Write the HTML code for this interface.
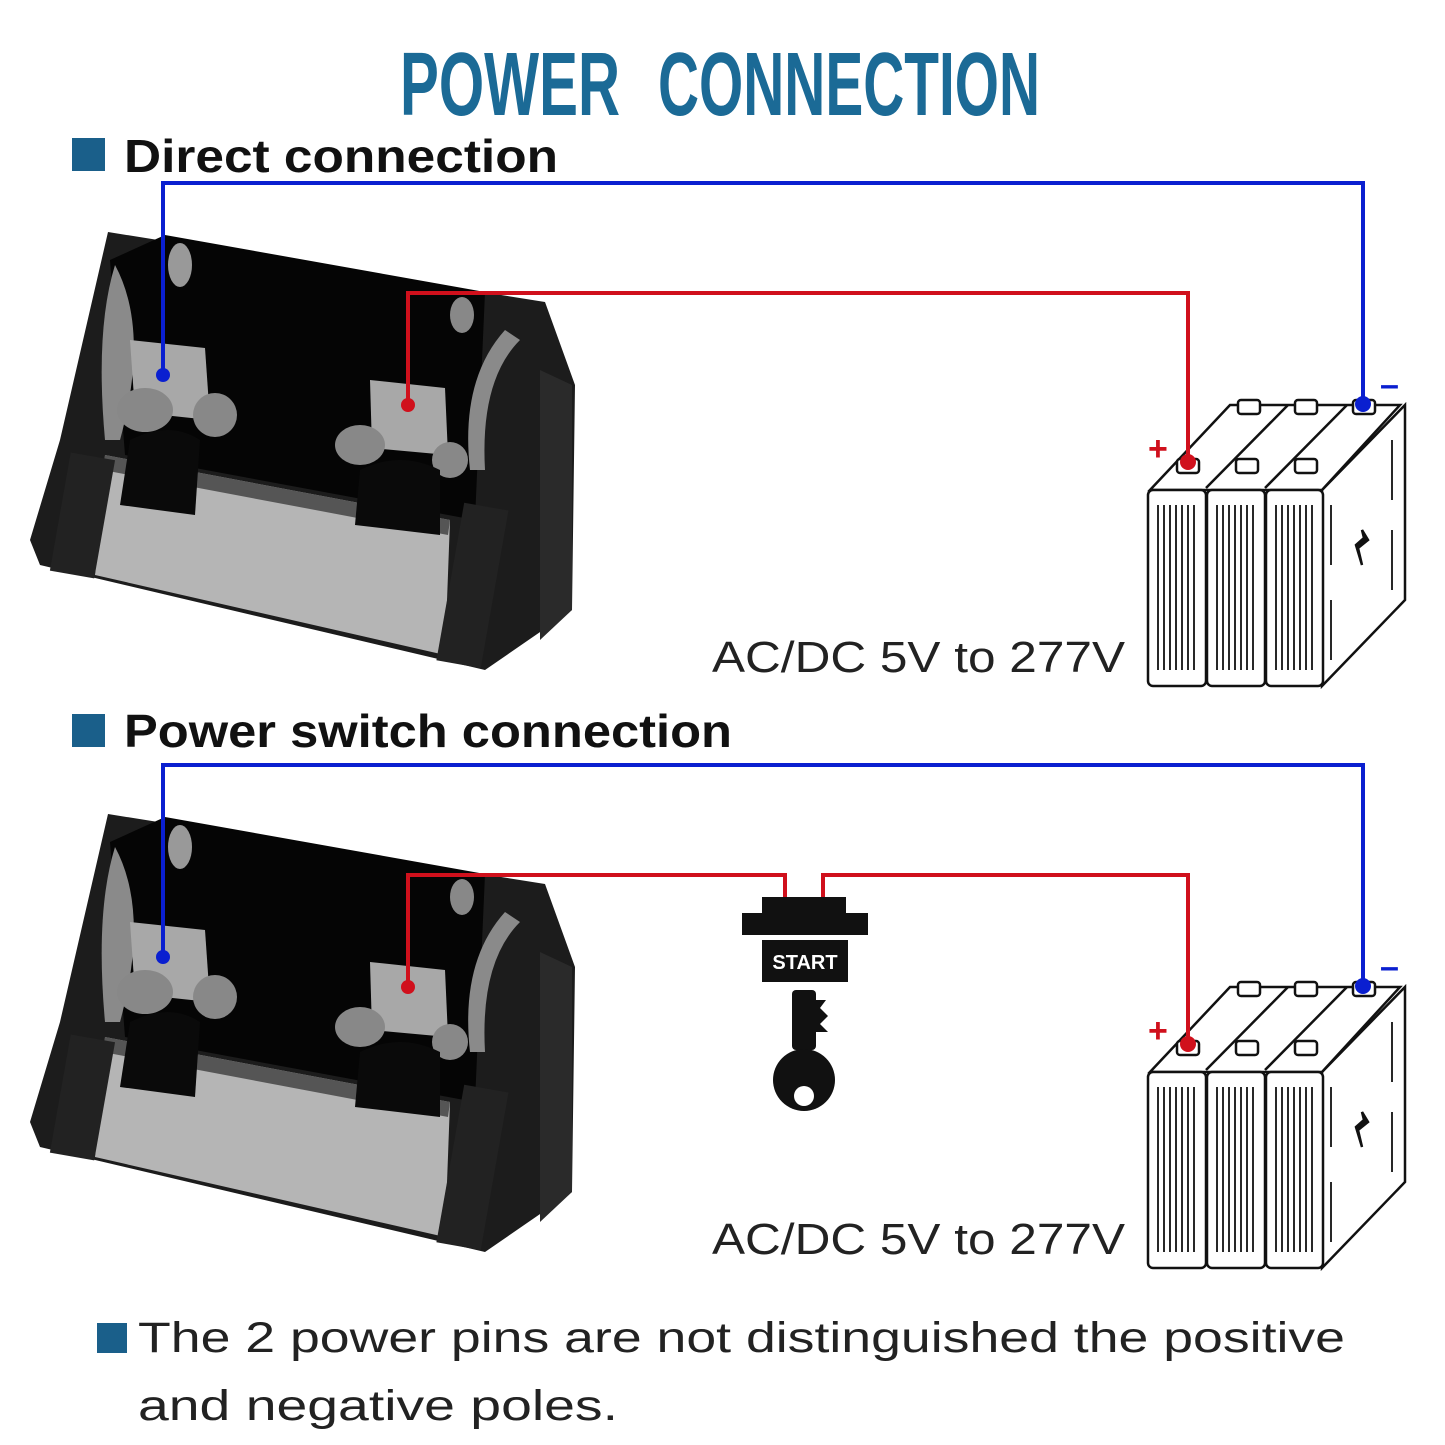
<!DOCTYPE html>
<html><head><meta charset="utf-8"><style>
html,body{margin:0;padding:0;background:#fff;}
svg{display:block;}
</style></head><body>
<svg width="1445" height="1445" viewBox="0 0 1445 1445" xmlns="http://www.w3.org/2000/svg">
<defs>
<g id="dev">
  <polygon points="108,232 545,302 575,385 572,610 485,670 40,565 30,540 60,440" fill="#1c1c1c"/>
  <polygon points="540,370 572,385 572,610 540,640" fill="#2a2a2a"/>
  <polygon points="165,235 485,292 475,520 125,455 110,260" fill="#050505"/>
  <path d="M115,265 Q150,330 120,440 L105,440 Q95,330 115,265Z" fill="#8a8a8a"/>
  <path d="M505,330 Q460,380 470,470 L485,470 Q480,380 520,340Z" fill="#8a8a8a"/>
  <ellipse cx="180" cy="265" rx="12" ry="22" fill="#999"/>
  <ellipse cx="462" cy="315" rx="12" ry="18" fill="#888"/>
  <polygon points="105,455 450,520 445,655 95,575" fill="#b5b5b5"/>
  <polygon points="105,455 450,520 448,535 103,470" fill="#555"/>
  <rect x="60" y="455" width="45" height="120" fill="#222" transform="rotate(10 80 515)"/>
  <rect x="450" y="505" width="45" height="160" fill="#222" transform="rotate(10 470 585)"/>
  <polygon points="130,340 205,348 210,420 135,412" fill="#a8a8a8"/>
  <polygon points="370,380 445,388 448,455 372,448" fill="#a8a8a8"/>
  <ellipse cx="145" cy="410" rx="28" ry="22" fill="#888"/>
  <ellipse cx="215" cy="415" rx="22" ry="22" fill="#888"/>
  <ellipse cx="360" cy="445" rx="25" ry="20" fill="#888"/>
  <ellipse cx="450" cy="460" rx="18" ry="18" fill="#888"/>
  <path d="M130,440 Q170,420 200,440 L195,515 L120,505Z" fill="#0a0a0a"/>
  <path d="M360,470 Q400,450 440,470 L440,535 L355,525Z" fill="#0a0a0a"/>
</g>
<g id="bat" fill="#fff" stroke="#111" stroke-width="2.5">
  <polygon points="1322,490 1405,405 1405,600 1322,686"/>
  <polygon points="1150,490 1230,405 1400,405 1322,490"/>
  <rect x="1148" y="490" width="58" height="196" rx="5"/>
  <rect x="1207" y="490" width="58" height="196" rx="5"/>
  <rect x="1266" y="490" width="57" height="196" rx="5"/>
  <line x1="1206" y1="488" x2="1288" y2="405"/>
  <line x1="1265" y1="488" x2="1347" y2="405"/>
  <rect x="1238" y="400" width="22" height="14" rx="3"/>
  <rect x="1295" y="400" width="22" height="14" rx="3"/>
  <rect x="1353" y="400" width="22" height="14" rx="3"/>
  <rect x="1177" y="459" width="22" height="14" rx="3"/>
  <rect x="1236" y="459" width="22" height="14" rx="3"/>
  <rect x="1295" y="459" width="22" height="14" rx="3"/>
  <g stroke-width="1.8" fill="none">
   <path d="M1158,505v165M1164,505v165M1170,505v165M1176,505v165M1182,505v165M1188,505v165M1194,505v165"/>
   <path d="M1217,505v165M1223,505v165M1229,505v165M1235,505v165M1241,505v165M1247,505v165M1253,505v165"/>
   <path d="M1276,505v165M1282,505v165M1288,505v165M1294,505v165M1300,505v165M1306,505v165M1312,505v165"/>
   <path d="M1331,505v60M1331,600v60M1392,440v60M1392,530v60"/>
  </g>
  <path d="M1362,530 L1368,540 L1358,548 L1362,565 L1356,545 L1364,538Z" fill="#111"/>
</g>
</defs>

<g font-family="Liberation Sans Narrow, Liberation Sans, sans-serif" font-weight="bold" font-size="90" fill="#1b6a96">
<text x="400" y="115" textLength="220" lengthAdjust="spacingAndGlyphs">POWER</text>
<text x="658" y="115" textLength="382" lengthAdjust="spacingAndGlyphs">CONNECTION</text>
</g>

<rect x="72" y="138" width="33" height="33" fill="#1a5f8a"/>
<text x="124" y="172" font-family="Liberation Sans, sans-serif" font-weight="bold" font-size="46" fill="#111" textLength="434" lengthAdjust="spacingAndGlyphs">Direct connection</text>
<rect x="72" y="714" width="33" height="33" fill="#1a5f8a"/>
<text x="124" y="747" font-family="Liberation Sans, sans-serif" font-weight="bold" font-size="46" fill="#111" textLength="608" lengthAdjust="spacingAndGlyphs">Power switch connection</text>

<use href="#dev"/>
<use href="#dev" transform="translate(0,582)"/>
<use href="#bat"/>
<use href="#bat" transform="translate(0,582)"/>

<text x="712" y="672" font-family="Liberation Sans, sans-serif" font-size="44" fill="#222" textLength="413" lengthAdjust="spacingAndGlyphs">AC/DC 5V to 277V</text>
<text x="712" y="1254" font-family="Liberation Sans, sans-serif" font-size="44" fill="#222" textLength="413" lengthAdjust="spacingAndGlyphs">AC/DC 5V to 277V</text>

<g fill="none" stroke-width="4">
 <path d="M163,375 V183 H1363 V404" stroke="#0a1fd0"/>
 <path d="M408,405 V293 H1188 V462" stroke="#d0101c"/>
 <path d="M163,957 V765 H1363 V986" stroke="#0a1fd0"/>
 <path d="M408,987 V875 H785 V897 M823,897 V875 H1188 V1044" stroke="#d0101c"/>
</g>
<g>
 <circle cx="163" cy="375" r="7" fill="#0a1fd0"/><circle cx="1363" cy="404" r="8" fill="#0a1fd0"/>
 <circle cx="408" cy="405" r="7" fill="#d0101c"/><circle cx="1188" cy="462" r="8" fill="#d0101c"/>
 <circle cx="163" cy="957" r="7" fill="#0a1fd0"/><circle cx="1363" cy="986" r="8" fill="#0a1fd0"/>
 <circle cx="408" cy="987" r="7" fill="#d0101c"/><circle cx="1188" cy="1044" r="8" fill="#d0101c"/>
</g>
<g font-family="Liberation Sans, sans-serif" font-weight="bold">
 <text x="1148" y="460" font-size="34" fill="#d0101c">+</text>
 <text x="1380" y="396" font-size="34" fill="#0a1fd0">–</text>
 <text x="1148" y="1042" font-size="34" fill="#d0101c">+</text>
 <text x="1380" y="978" font-size="34" fill="#0a1fd0">–</text>
</g>

<rect x="762" y="897" width="84" height="16" fill="#111"/>
<rect x="742" y="913" width="126" height="22" fill="#111"/>
<rect x="762" y="940" width="86" height="42" fill="#111"/>
<text x="805" y="969" text-anchor="middle" font-family="Liberation Sans, sans-serif" font-weight="bold" font-size="20" fill="#fff">START</text>
<rect x="792" y="990" width="24" height="60" rx="4" fill="#111"/>
<path d="M816,1000 h10 l-6,8 l8,8 l-8,8 l8,8 h-12z" fill="#111"/>
<circle cx="804" cy="1080" r="31" fill="#111"/>
<circle cx="804" cy="1096" r="10" fill="#fff"/>

<rect x="97" y="1323" width="30" height="30" fill="#1a5f8a"/>
<text x="138" y="1352" font-family="Liberation Sans, sans-serif" font-size="43" fill="#222" textLength="1207" lengthAdjust="spacingAndGlyphs">The 2 power pins are not distinguished the positive</text>
<text x="138" y="1420" font-family="Liberation Sans, sans-serif" font-size="43" fill="#222" textLength="480" lengthAdjust="spacingAndGlyphs">and negative poles.</text>
</svg>
</body></html>
